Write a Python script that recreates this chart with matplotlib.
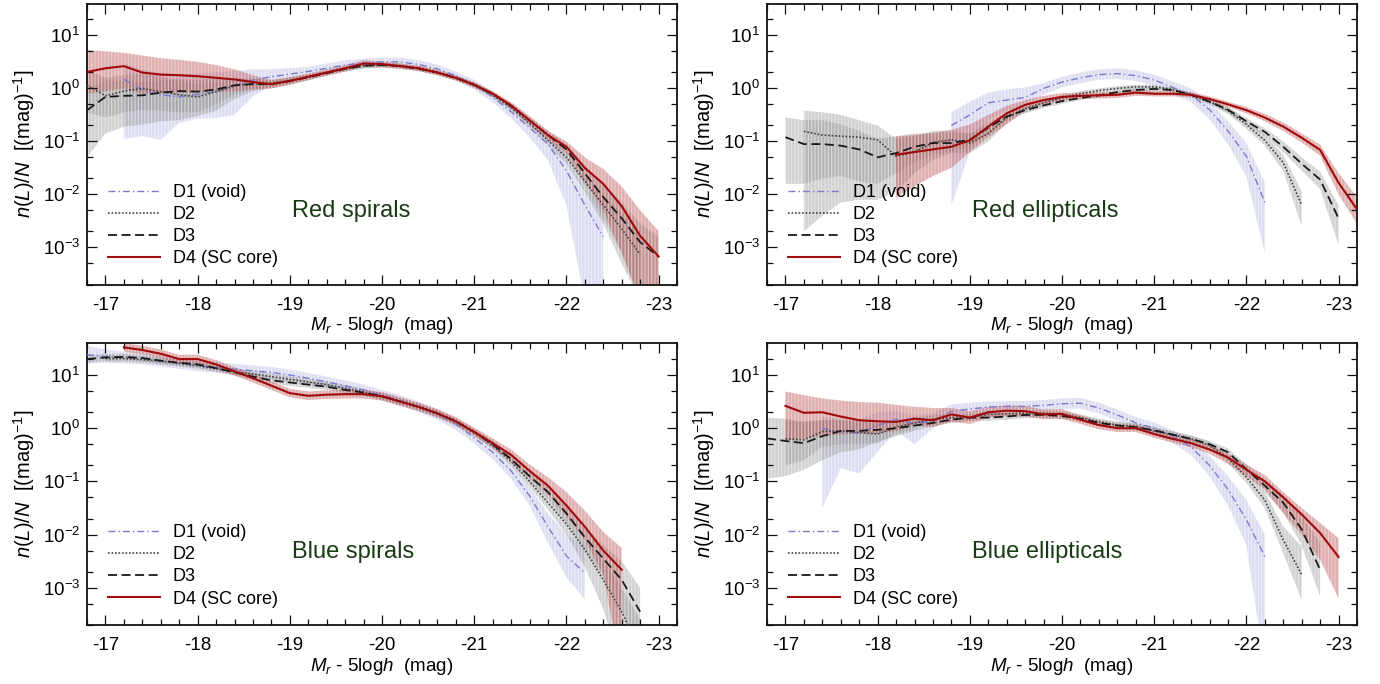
import numpy as np
import matplotlib
matplotlib.use("Agg")
import matplotlib.pyplot as plt
from matplotlib.ticker import MultipleLocator, LogLocator, LogFormatterSciNotation, NullFormatter

plt.rcParams['font.family'] = ['Liberation Sans', 'DejaVu Sans']
plt.rcParams['mathtext.fontset'] = 'custom'
plt.rcParams['mathtext.rm'] = 'Liberation Sans'
plt.rcParams['mathtext.it'] = 'Liberation Sans:italic'
plt.rcParams['mathtext.bf'] = 'Liberation Sans:bold'
plt.rcParams['axes.unicode_minus'] = False
plt.rcParams['hatch.linewidth'] = 0.7

nan = np.nan

# Absolute magnitude bins, M_r - 5 log h
MAG = [-16.8, -17.0, -17.2, -17.4, -17.6, -17.8, -18.0, -18.2, -18.4, -18.6, -18.8,
       -19.0, -19.2, -19.4, -19.6, -19.8, -20.0, -20.2, -20.4, -20.6, -20.8, -21.0,
       -21.2, -21.4, -21.6, -21.8, -22.0, -22.2, -22.4, -22.6, -22.8, -23.0, -23.2]

SERIES = ["D1 (void)", "D2", "D3", "D4 (SC core)"]
PANELS = ["Red spirals", "Red ellipticals", "Blue spirals", "Blue ellipticals"]

# log10 n(L)/N per bin: central value, lower and upper edge of the uncertainty band
# ---- Red spirals ----
rs_d1 = [nan, nan, 0.17, -0.03, -0.12, -0.16, -0.11, -0.06, 0.05, 0.16, 0.22,
         0.27, 0.32, 0.38, 0.44, 0.48, 0.50, 0.50, 0.45, 0.37, 0.24, 0.07,
         -0.16, -0.44, -0.74, -1.05, -1.55, -2.2, -2.8, nan, nan, nan, nan]
rs_d1_lo = [nan, nan, -0.95, -0.9, -0.97, -0.65, -0.57, -0.56, -0.5, -0.15, 0.06,
            0.16, 0.23, 0.29, 0.35, 0.39, 0.42, 0.42, 0.37, 0.29, 0.16, -0.02,
            -0.26, -0.56, -0.92, -1.35, -2.2, -4.0, -4.0, nan, nan, nan, nan]
rs_d1_hi = [nan, nan, 0.48, 0.35, 0.3, 0.26, 0.28, 0.3, 0.33, 0.36, 0.36,
            0.38, 0.41, 0.47, 0.53, 0.56, 0.58, 0.58, 0.53, 0.45, 0.32, 0.16,
            -0.06, -0.32, -0.6, -0.85, -1.3, -1.9, -2.25, nan, nan, nan, nan]
rs_d2 = [0.06, -0.14, -0.05, 0.0, -0.06, -0.12, -0.16, -0.06, 0.05, 0.09, 0.1,
         0.15, 0.22, 0.3, 0.37, 0.43, 0.44, 0.43, 0.38, 0.3, 0.2, 0.06,
         -0.12, -0.36, -0.66, -0.98, -1.3, -1.75, -2.2, -2.65, -3.13, nan, nan]
rs_d2_lo = [-0.45, -0.55, -0.45, -0.4, -0.42, -0.45, -0.45, -0.3, -0.12, -0.02, 0.02,
            0.08, 0.16, 0.25, 0.32, 0.38, 0.39, 0.38, 0.33, 0.25, 0.15, 0.01,
            -0.17, -0.42, -0.73, -1.07, -1.42, -1.95, -2.55, -3.3, -4.0, nan, nan]
rs_d2_hi = [0.35, 0.2, 0.25, 0.28, 0.22, 0.15, 0.08, 0.12, 0.18, 0.18, 0.17,
            0.21, 0.27, 0.34, 0.41, 0.47, 0.48, 0.47, 0.42, 0.34, 0.24, 0.1,
            -0.08, -0.31, -0.6, -0.9, -1.2, -1.6, -2.0, -2.35, -2.7, nan, nan]
rs_d3 = [-0.41, -0.16, -0.14, -0.13, -0.08, -0.05, -0.06, -0.02, 0.06, 0.08, 0.08,
         0.14, 0.21, 0.29, 0.37, 0.43, 0.44, 0.42, 0.37, 0.3, 0.2, 0.07,
         -0.1, -0.33, -0.6, -0.88, -1.15, -1.6, -2.05, -2.45, -2.9, -3.17, nan]
rs_d3_lo = [-1.3, -0.85, -0.72, -0.68, -0.62, -0.6, -0.52, -0.42, -0.2, -0.05, 0.0,
            0.07, 0.15, 0.24, 0.32, 0.38, 0.39, 0.37, 0.32, 0.25, 0.15, 0.02,
            -0.15, -0.39, -0.67, -0.97, -1.28, -1.85, -2.45, -3.1, -4.0, -4.0, nan]
rs_d3_hi = [0.0, 0.15, 0.14, 0.12, 0.15, 0.17, 0.16, 0.18, 0.2, 0.18, 0.15,
            0.2, 0.26, 0.33, 0.41, 0.47, 0.48, 0.46, 0.41, 0.34, 0.24, 0.11,
            -0.06, -0.28, -0.54, -0.8, -1.05, -1.45, -1.8, -2.15, -2.55, -2.8, nan]
rs_d4 = [0.31, 0.38, 0.42, 0.3, 0.26, 0.25, 0.23, 0.2, 0.17, 0.12, 0.08,
         0.14, 0.22, 0.3, 0.38, 0.47, 0.46, 0.42, 0.38, 0.3, 0.2, 0.07,
         -0.1, -0.32, -0.6, -0.88, -1.1, -1.5, -1.8, -2.22, -2.78, -3.17, nan]
rs_d4_lo = [-0.1, -0.05, 0.0, -0.1, -0.1, -0.08, -0.08, -0.07, -0.05, -0.02, 0.0,
            0.07, 0.16, 0.24, 0.32, 0.41, 0.41, 0.37, 0.33, 0.25, 0.15, 0.02,
            -0.15, -0.38, -0.68, -0.97, -1.22, -1.75, -2.3, -3.1, -4.0, -4.0, nan]
rs_d4_hi = [0.72, 0.7, 0.67, 0.62, 0.57, 0.54, 0.5, 0.44, 0.36, 0.25, 0.15,
            0.21, 0.28, 0.36, 0.44, 0.53, 0.51, 0.47, 0.43, 0.35, 0.25, 0.12,
            -0.05, -0.26, -0.52, -0.8, -1.0, -1.3, -1.52, -1.85, -2.3, -2.69, nan]

# ---- Red ellipticals ----
re_d1 = [nan, nan, nan, nan, nan, nan, nan, nan, nan, nan, -0.7,
         -0.5, -0.27, -0.22, -0.17, 0.0, 0.12, 0.2, 0.26, 0.28, 0.24, 0.16,
         0.02, -0.12, -0.4, -0.8, -1.28, -2.15, nan, nan, nan, nan, nan]
re_d1_lo = [nan, nan, nan, nan, nan, nan, nan, nan, nan, nan, -2.2,
            -1.2, -0.6, -0.42, -0.32, -0.12, 0.02, 0.1, 0.16, 0.18, 0.14, 0.06,
            -0.1, -0.26, -0.58, -1.05, -1.66, -3.1, nan, nan, nan, nan, nan]
re_d1_hi = [nan, nan, nan, nan, nan, nan, nan, nan, nan, nan, -0.45,
            -0.25, -0.08, -0.02, 0.02, 0.1, 0.22, 0.3, 0.36, 0.38, 0.34, 0.26,
            0.13, 0.0, -0.25, -0.62, -1.03, -1.78, nan, nan, nan, nan, nan]
re_d2 = [nan, nan, -0.81, -0.88, -0.9, -0.92, -0.97, -1.28, -1.2, -1.02, -0.97,
         -1.03, -0.85, -0.55, -0.38, -0.27, -0.18, -0.1, -0.04, 0.0, 0.03, 0.03,
         -0.02, -0.12, -0.25, -0.42, -0.68, -0.98, -1.4, -2.2, nan, nan, nan]
re_d2_lo = [nan, nan, -2.7, -2.4, -2.15, -2.1, -2.1, -1.95, -1.6, -1.35, -1.22,
            -1.22, -1.0, -0.65, -0.46, -0.33, -0.23, -0.15, -0.08, -0.04, -0.01, -0.01,
            -0.06, -0.16, -0.3, -0.48, -0.76, -1.08, -1.55, -2.6, nan, nan, nan]
re_d2_hi = [nan, nan, -0.42, -0.45, -0.5, -0.6, -0.7, -0.95, -0.9, -0.8, -0.8,
            -0.85, -0.72, -0.45, -0.3, -0.21, -0.13, -0.05, 0.0, 0.04, 0.07, 0.07,
            0.02, -0.08, -0.2, -0.36, -0.6, -0.88, -1.25, -1.95, nan, nan, nan]
re_d3 = [nan, -0.92, -1.05, -1.05, -1.08, -1.15, -1.3, -1.22, -1.1, -1.03, -1.03,
         -0.97, -0.74, -0.53, -0.41, -0.32, -0.24, -0.18, -0.13, -0.07, -0.03, -0.01,
         -0.03, -0.12, -0.25, -0.4, -0.62, -0.82, -1.1, -1.42, -1.72, -2.45, nan]
re_d3_lo = [nan, -1.8, -1.8, -1.7, -1.65, -1.75, -1.8, -1.6, -1.4, -1.25, -1.2,
            -1.1, -0.85, -0.6, -0.47, -0.37, -0.29, -0.22, -0.17, -0.11, -0.07, -0.05,
            -0.07, -0.16, -0.29, -0.45, -0.68, -0.9, -1.2, -1.55, -1.9, -2.95, nan]
re_d3_hi = [nan, -0.55, -0.6, -0.6, -0.68, -0.8, -0.95, -0.9, -0.85, -0.85, -0.85,
            -0.85, -0.64, -0.46, -0.35, -0.27, -0.19, -0.14, -0.09, -0.03, 0.01, 0.03,
            0.01, -0.08, -0.21, -0.35, -0.56, -0.75, -1.0, -1.3, -1.57, -2.2, nan]
re_d4 = [nan, nan, nan, nan, nan, nan, nan, -1.25, -1.2, -1.15, -1.1,
         -0.98, -0.72, -0.47, -0.31, -0.22, -0.16, -0.14, -0.13, -0.12, -0.08, -0.1,
         -0.1, -0.12, -0.2, -0.3, -0.41, -0.55, -0.72, -0.93, -1.16, -1.78, -2.28]
re_d4_lo = [nan, nan, nan, nan, nan, nan, nan, -2.06, -1.85, -1.65, -1.5,
            -1.2, -0.92, -0.68, -0.4, -0.3, -0.23, -0.2, -0.19, -0.18, -0.14, -0.15,
            -0.15, -0.17, -0.25, -0.35, -0.47, -0.62, -0.8, -1.02, -1.27, -2.0, -2.55]
re_d4_hi = [nan, nan, nan, nan, nan, nan, nan, -0.91, -0.88, -0.84, -0.78,
            -0.68, -0.5, -0.33, -0.22, -0.14, -0.09, -0.08, -0.07, -0.06, -0.02, -0.05,
            -0.05, -0.07, -0.15, -0.25, -0.35, -0.48, -0.64, -0.85, -1.06, -1.6, -2.05]

# ---- Blue spirals ----
bs_d1 = [1.38, 1.35, 1.33, 1.31, 1.27, 1.22, 1.17, 1.14, 1.11, 1.08, 1.05,
         1.0, 0.94, 0.87, 0.8, 0.72, 0.62, 0.52, 0.4, 0.26, 0.08, -0.18,
         -0.45, -0.8, -1.27, -1.85, -2.4, -2.72, nan, nan, nan, nan, nan]
bs_d1_lo = [1.22, 1.23, 1.22, 1.2, 1.16, 1.12, 1.07, 1.04, 1.01, 0.98, 0.95,
            0.9, 0.84, 0.77, 0.7, 0.62, 0.52, 0.42, 0.3, 0.16, -0.03, -0.29,
            -0.58, -0.95, -1.45, -2.15, -2.8, -3.22, nan, nan, nan, nan, nan]
bs_d1_hi = [1.55, 1.48, 1.44, 1.42, 1.38, 1.32, 1.27, 1.24, 1.21, 1.18, 1.15,
            1.1, 1.04, 0.97, 0.9, 0.82, 0.72, 0.62, 0.5, 0.36, 0.19, -0.07,
            -0.33, -0.66, -1.1, -1.6, -2.0, -2.22, nan, nan, nan, nan, nan]
bs_d2 = [nan, 1.31, 1.31, 1.29, 1.26, 1.22, 1.18, 1.12, 1.06, 1.02, 0.97,
         0.92, 0.87, 0.82, 0.75, 0.68, 0.6, 0.5, 0.4, 0.27, 0.12, -0.08,
         -0.32, -0.62, -1.0, -1.4, -1.8, -2.28, -2.85, -3.45, -4.2, nan, nan]
bs_d2_lo = [nan, 1.25, 1.25, 1.23, 1.2, 1.16, 1.12, 1.06, 1.0, 0.96, 0.91,
            0.86, 0.81, 0.76, 0.69, 0.62, 0.54, 0.44, 0.34, 0.21, 0.06, -0.14,
            -0.39, -0.7, -1.1, -1.53, -2.0, -2.6, -3.4, -4.5, -4.5, nan, nan]
bs_d2_hi = [nan, 1.37, 1.37, 1.35, 1.32, 1.28, 1.24, 1.18, 1.12, 1.08, 1.03,
            0.98, 0.93, 0.88, 0.81, 0.74, 0.66, 0.56, 0.46, 0.33, 0.18, -0.02,
            -0.25, -0.54, -0.9, -1.27, -1.62, -2.05, -2.5, -3.0, -3.6, nan, nan]
bs_d3 = [1.3, 1.33, 1.34, 1.32, 1.27, 1.23, 1.2, 1.13, 1.05, 0.97, 0.9,
         0.86, 0.82, 0.78, 0.72, 0.67, 0.6, 0.5, 0.4, 0.28, 0.13, -0.07,
         -0.3, -0.58, -0.9, -1.2, -1.6, -2.05, -2.45, -2.85, -3.45, nan, nan]
bs_d3_lo = [1.22, 1.27, 1.28, 1.26, 1.21, 1.17, 1.14, 1.07, 0.99, 0.91, 0.84,
            0.8, 0.76, 0.72, 0.66, 0.61, 0.54, 0.44, 0.34, 0.22, 0.07, -0.13,
            -0.37, -0.66, -1.0, -1.33, -1.77, -2.3, -2.8, -3.4, -4.5, nan, nan]
bs_d3_hi = [1.38, 1.39, 1.4, 1.38, 1.33, 1.29, 1.26, 1.19, 1.11, 1.03, 0.96,
            0.92, 0.88, 0.84, 0.78, 0.73, 0.66, 0.56, 0.46, 0.34, 0.19, -0.01,
            -0.23, -0.5, -0.81, -1.08, -1.45, -1.85, -2.2, -2.5, -3.0, nan, nan]
bs_d4 = [nan, nan, 1.52, 1.47, 1.4, 1.3, 1.3, 1.2, 1.07, 0.94, 0.8,
         0.66, 0.61, 0.63, 0.64, 0.64, 0.6, 0.5, 0.4, 0.28, 0.13, -0.07,
         -0.28, -0.5, -0.8, -1.08, -1.45, -1.85, -2.3, -2.66, nan, nan, nan]
bs_d4_lo = [nan, nan, 1.44, 1.39, 1.32, 1.22, 1.22, 1.12, 0.99, 0.86, 0.72,
            0.58, 0.53, 0.55, 0.56, 0.56, 0.52, 0.42, 0.32, 0.2, 0.05, -0.15,
            -0.37, -0.62, -0.93, -1.25, -1.65, -2.1, -2.75, -4.5, nan, nan, nan]
bs_d4_hi = [nan, nan, 1.6, 1.55, 1.48, 1.38, 1.38, 1.28, 1.15, 1.02, 0.88,
            0.74, 0.69, 0.71, 0.72, 0.72, 0.68, 0.58, 0.48, 0.36, 0.21, 0.01,
            -0.19, -0.4, -0.68, -0.92, -1.2, -1.55, -1.95, -2.25, nan, nan, nan]

# ---- Blue ellipticals ----
be_d1 = [nan, nan, nan, 0.0, -0.07, -0.09, 0.05, 0.17, 0.08, 0.14, 0.32,
         0.36, 0.4, 0.41, 0.41, 0.43, 0.46, 0.47, 0.38, 0.25, 0.1, 0.0,
         -0.15, -0.35, -0.7, -1.15, -1.72, -2.41, nan, nan, nan, nan, nan]
be_d1_lo = [nan, nan, nan, -1.5, -0.75, -0.85, -0.45, -0.05, -0.3, 0.0, 0.2,
            0.25, 0.3, 0.31, 0.31, 0.33, 0.36, 0.37, 0.28, 0.14, -0.01, -0.12,
            -0.28, -0.5, -0.9, -1.45, -2.2, -4.5, nan, nan, nan, nan, nan]
be_d1_hi = [nan, nan, nan, 0.22, 0.18, 0.16, 0.3, 0.32, 0.25, 0.28, 0.45,
            0.48, 0.5, 0.51, 0.51, 0.53, 0.56, 0.57, 0.48, 0.35, 0.21, 0.11,
            -0.04, -0.22, -0.52, -0.9, -1.35, -2.0, nan, nan, nan, nan, nan]
be_d2 = [nan, -0.2, -0.22, -0.06, -0.05, -0.08, -0.11, 0.02, 0.1, 0.17, 0.2,
         0.2, 0.26, 0.27, 0.28, 0.28, 0.26, 0.2, 0.12, 0.06, 0.03, -0.05,
         -0.12, -0.2, -0.32, -0.56, -0.92, -1.35, -2.1, -2.75, nan, nan, nan]
be_d2_lo = [nan, -0.7, -0.6, -0.35, -0.3, -0.3, -0.28, -0.12, 0.0, 0.09, 0.13,
            0.14, 0.2, 0.21, 0.22, 0.22, 0.2, 0.14, 0.06, 0.0, -0.03, -0.11,
            -0.18, -0.26, -0.39, -0.65, -1.03, -1.5, -2.35, -3.22, nan, nan, nan]
be_d2_hi = [nan, 0.15, 0.12, 0.15, 0.15, 0.12, 0.08, 0.14, 0.2, 0.25, 0.27,
            0.26, 0.32, 0.33, 0.34, 0.34, 0.32, 0.26, 0.18, 0.12, 0.09, 0.01,
            -0.06, -0.14, -0.25, -0.49, -0.82, -1.2, -1.85, -2.22, nan, nan, nan]
be_d3 = [-0.19, -0.24, -0.28, -0.15, -0.05, -0.05, -0.03, 0.0, 0.05, 0.1, 0.16,
         0.2, 0.2, 0.22, 0.25, 0.25, 0.23, 0.18, 0.1, 0.05, 0.02, -0.04,
         -0.12, -0.2, -0.3, -0.45, -0.77, -1.08, -1.4, -1.9, -2.66, nan, nan]
be_d3_lo = [-0.95, -0.9, -0.78, -0.6, -0.45, -0.4, -0.25, -0.15, -0.05, 0.04, 0.1,
            0.14, 0.14, 0.16, 0.19, 0.19, 0.17, 0.12, 0.04, -0.01, -0.04, -0.1,
            -0.18, -0.26, -0.36, -0.53, -0.86, -1.2, -1.58, -2.2, -3.16, nan, nan]
be_d3_hi = [0.2, 0.18, 0.12, 0.15, 0.15, 0.13, 0.12, 0.12, 0.15, 0.18, 0.22,
            0.26, 0.26, 0.28, 0.31, 0.31, 0.29, 0.24, 0.16, 0.11, 0.08, 0.02,
            -0.06, -0.14, -0.24, -0.38, -0.68, -0.96, -1.25, -1.65, -2.16, nan, nan]
be_d4 = [nan, 0.42, 0.29, 0.3, 0.22, 0.15, 0.13, 0.12, 0.18, 0.15, 0.26,
         0.2, 0.3, 0.33, 0.32, 0.26, 0.27, 0.16, 0.06, 0.0, 0.0, -0.11,
         -0.2, -0.28, -0.4, -0.55, -0.78, -1.0, -1.3, -1.62, -1.97, -2.42, nan]
be_d4_lo = [nan, -0.22, -0.2, -0.15, -0.12, -0.1, -0.1, -0.05, 0.05, 0.02, 0.12,
            0.08, 0.2, 0.23, 0.22, 0.17, 0.18, 0.08, -0.02, -0.07, -0.07, -0.18,
            -0.27, -0.36, -0.48, -0.67, -0.9, -1.15, -1.6, -2.0, -2.47, -3.2, nan]
be_d4_hi = [nan, 0.69, 0.62, 0.56, 0.52, 0.49, 0.48, 0.44, 0.4, 0.38, 0.38,
            0.32, 0.4, 0.43, 0.42, 0.35, 0.36, 0.24, 0.13, 0.07, 0.07, -0.04,
            -0.13, -0.2, -0.32, -0.48, -0.68, -0.88, -1.2, -1.5, -1.78, -2.07, nan]

DATA = {
    "Red spirals": [(rs_d1, rs_d1_lo, rs_d1_hi), (rs_d2, rs_d2_lo, rs_d2_hi),
                    (rs_d3, rs_d3_lo, rs_d3_hi), (rs_d4, rs_d4_lo, rs_d4_hi)],
    "Red ellipticals": [(re_d1, re_d1_lo, re_d1_hi), (re_d2, re_d2_lo, re_d2_hi),
                        (re_d3, re_d3_lo, re_d3_hi), (re_d4, re_d4_lo, re_d4_hi)],
    "Blue spirals": [(bs_d1, bs_d1_lo, bs_d1_hi), (bs_d2, bs_d2_lo, bs_d2_hi),
                     (bs_d3, bs_d3_lo, bs_d3_hi), (bs_d4, bs_d4_lo, bs_d4_hi)],
    "Blue ellipticals": [(be_d1, be_d1_lo, be_d1_hi), (be_d2, be_d2_lo, be_d2_hi),
                         (be_d3, be_d3_lo, be_d3_hi), (be_d4, be_d4_lo, be_d4_hi)],
}

# styles per density class
LINE_STYLE = [
    dict(color="#7a7ad0", lw=1.0, dashes=(5, 2.2, 1, 2.2)),
    dict(color="#444444", lw=1.2, dashes=(1, 1.1)),
    dict(color="#1a1a1a", lw=1.3, dashes=(5, 2.5)),
    dict(color="#a00a0a", lw=1.5, linestyle="-"),
]
BAND_FACE = [(0.74, 0.74, 0.90, 0.50),
             (0.55, 0.55, 0.55, 0.40),
             (0.55, 0.55, 0.55, 0.40),
             (0.72, 0.30, 0.30, 0.45)]
BAND_HATCH = [(1, 1, 1, 0.55), (1, 1, 1, 0.45), (1, 1, 1, 0.45), (1, 1, 1, 0.45)]

fig = plt.figure(figsize=(13.8, 6.84), dpi=100)
W, H = 1380.0, 684.0
rects = {
    "Red spirals": (87, 3.5, 677, 284.5),
    "Red ellipticals": (767, 3.5, 1357, 284.5),
    "Blue spirals": (87, 343, 677, 625),
    "Blue ellipticals": (767, 343, 1357, 625),
}

mag = np.array(MAG)
for name in PANELS:
    x0, y0, x1, y1 = rects[name]
    ax = fig.add_axes([x0 / W, 1 - y1 / H, (x1 - x0) / W, (y1 - y0) / H])
    ax.set_yscale("log")
    series = DATA[name]
    # uncertainty bands
    for k, (c, lo, hi) in enumerate(series):
        lo = np.array(lo, float)
        hi = np.array(hi, float)
        ok = ~np.isnan(lo)
        ax.fill_between(mag[ok], 10 ** lo[ok], 10 ** hi[ok],
                        facecolor=BAND_FACE[k], edgecolor=BAND_HATCH[k],
                        linewidth=0, hatch="|||||", zorder=1 + k * 0.1)
    # central curves
    handles = []
    for k, (c, lo, hi) in enumerate(series):
        c = np.array(c, float)
        ok = ~np.isnan(c)
        st = dict(LINE_STYLE[k])
        ln, = ax.plot(mag[ok], 10 ** c[ok], label=SERIES[k], zorder=3 + k * 0.1, **st)
        handles.append(ln)

    ax.set_xlim(-16.8, -23.2)
    ax.set_ylim(2e-4, 40)
    ax.xaxis.set_major_locator(MultipleLocator(1))
    ax.xaxis.set_minor_locator(MultipleLocator(0.2))
    ax.yaxis.set_major_locator(LogLocator(base=10, numticks=20))
    ax.yaxis.set_minor_locator(LogLocator(base=10, subs=(2.0, 5.0), numticks=20))
    ax.yaxis.set_major_formatter(LogFormatterSciNotation())
    ax.yaxis.set_minor_formatter(NullFormatter())
    ax.xaxis.set_major_formatter(plt.FuncFormatter(lambda v, p: "%d" % round(v)))
    ax.tick_params(which="both", direction="in", top=True, right=True,
                   labelsize=13.5, width=0.9, color="#111111")
    ax.tick_params(which="major", length=7)
    ax.tick_params(which="minor", length=4)
    ax.tick_params(axis="x", which="major", pad=9)
    ax.tick_params(axis="y", which="major", pad=5)
    for sp in ax.spines.values():
        sp.set_linewidth(1.3)
        sp.set_color("#111111")

    ax.set_xlabel(r"$M_r$ - 5log$h$  (mag)", fontsize=13.5, labelpad=1)
    ax.set_ylabel(r"$n$($L$)/$N$  [(mag)$^{-1}$]", fontsize=14.5, labelpad=4)

    ax.text(0.347, 0.26, name, transform=ax.transAxes, fontsize=17,
            color="#183a14", ha="left", va="center")
    ax.legend(handles=handles, loc="lower left", bbox_to_anchor=(0.035, 0.062),
              frameon=False, fontsize=13, handlelength=2.9, handletextpad=0.7,
              labelspacing=0.28, borderpad=0, borderaxespad=0)

fig.savefig("out.png", dpi=100)
